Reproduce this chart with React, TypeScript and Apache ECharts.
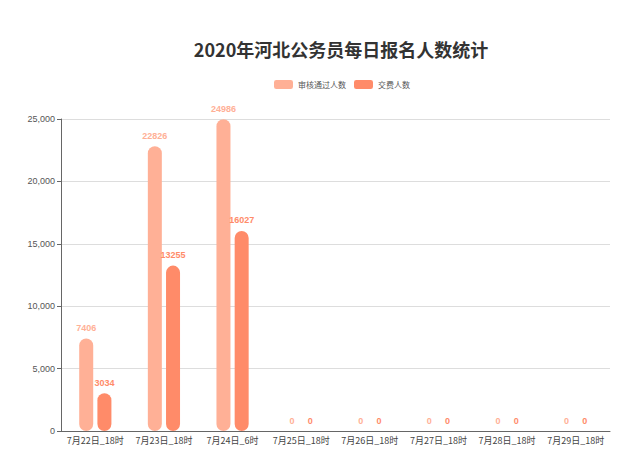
import React, { useEffect, useRef } from "react";
import * as echarts from "echarts";

const categories = ["7月22日_18时", "7月23日_18时", "7月24日_6时", "7月25日_18时", "7月26日_18时", "7月27日_18时", "7月28日_18时", "7月29日_18时"];
const approved = [7406, 22826, 24986, 0, 0, 0, 0, 0];
const paid = [3034, 13255, 16027, 0, 0, 0, 0, 0];
const seriesNames = ["审核通过人数", "交费人数"];
const yTicks = [0, 5000, 10000, 15000, 20000, 25000];

export default function App() {
  const ref = useRef<HTMLDivElement>(null);
  useEffect(() => {
    const chart = echarts.init(ref.current!, null, { renderer: "svg" });
    const c1 = "#FFB096";
    const c2 = "#FF8B69";
    chart.setOption({
      animation: false,
      title: {
        text: "2020年河北公务员每日报名人数统计",
        left: 328,
        top: 27,
        textAlign: "center",
        textStyle: { fontSize: 18, fontWeight: "bold", color: "#333", fontFamily: "Noto Sans CJK SC" },
      },
      legend: {
        data: seriesNames,
        left: 261,
        top: 67,
        itemWidth: 19,
        itemHeight: 9,
        itemGap: 8,
        textStyle: { fontSize: 8, color: "#555", fontFamily: "Noto Sans CJK SC" },
      },
      grid: { left: 53, right: 22, top: 111, bottom: 20, containLabel: false },
      xAxis: {
        type: "category",
        data: categories,
        axisLine: { lineStyle: { color: "#666" } },
        axisTick: { lineStyle: { color: "#666" } },
        axisLabel: { fontSize: 9, color: "#444", margin: 5, interval: 0, fontFamily: "Noto Sans CJK SC" },
      },
      yAxis: {
        type: "value",
        min: 0,
        max: 25000,
        interval: 5000,
        axisLine: { show: true, lineStyle: { color: "#666" } },
        axisTick: { show: true, length: 4, lineStyle: { color: "#666" } },
        axisLabel: {
          fontSize: 9,
          color: "#555",
          margin: 6,
          formatter: (v: number) => (yTicks.includes(v) ? v.toLocaleString("en-US") : ""),
        },
        splitLine: { lineStyle: { color: "#ddd" } },
      },
      series: [
        {
          name: seriesNames[0],
          type: "bar",
          data: approved,
          barWidth: 14,
          barGap: "30%",
          itemStyle: { color: c1, borderRadius: 7 },
          label: { show: true, position: "top", color: c1, fontSize: 9, fontWeight: "bold", distance: 6 },
        },
        {
          name: seriesNames[1],
          type: "bar",
          data: paid,
          barWidth: 14,
          itemStyle: { color: c2, borderRadius: 7 },
          label: { show: true, position: "top", color: c2, fontSize: 9, fontWeight: "bold", distance: 6 },
        },
      ],
    });
    return () => chart.dispose();
  }, []);
  return <div ref={ref} style={{ width: 624, height: 443 }} />;
}
